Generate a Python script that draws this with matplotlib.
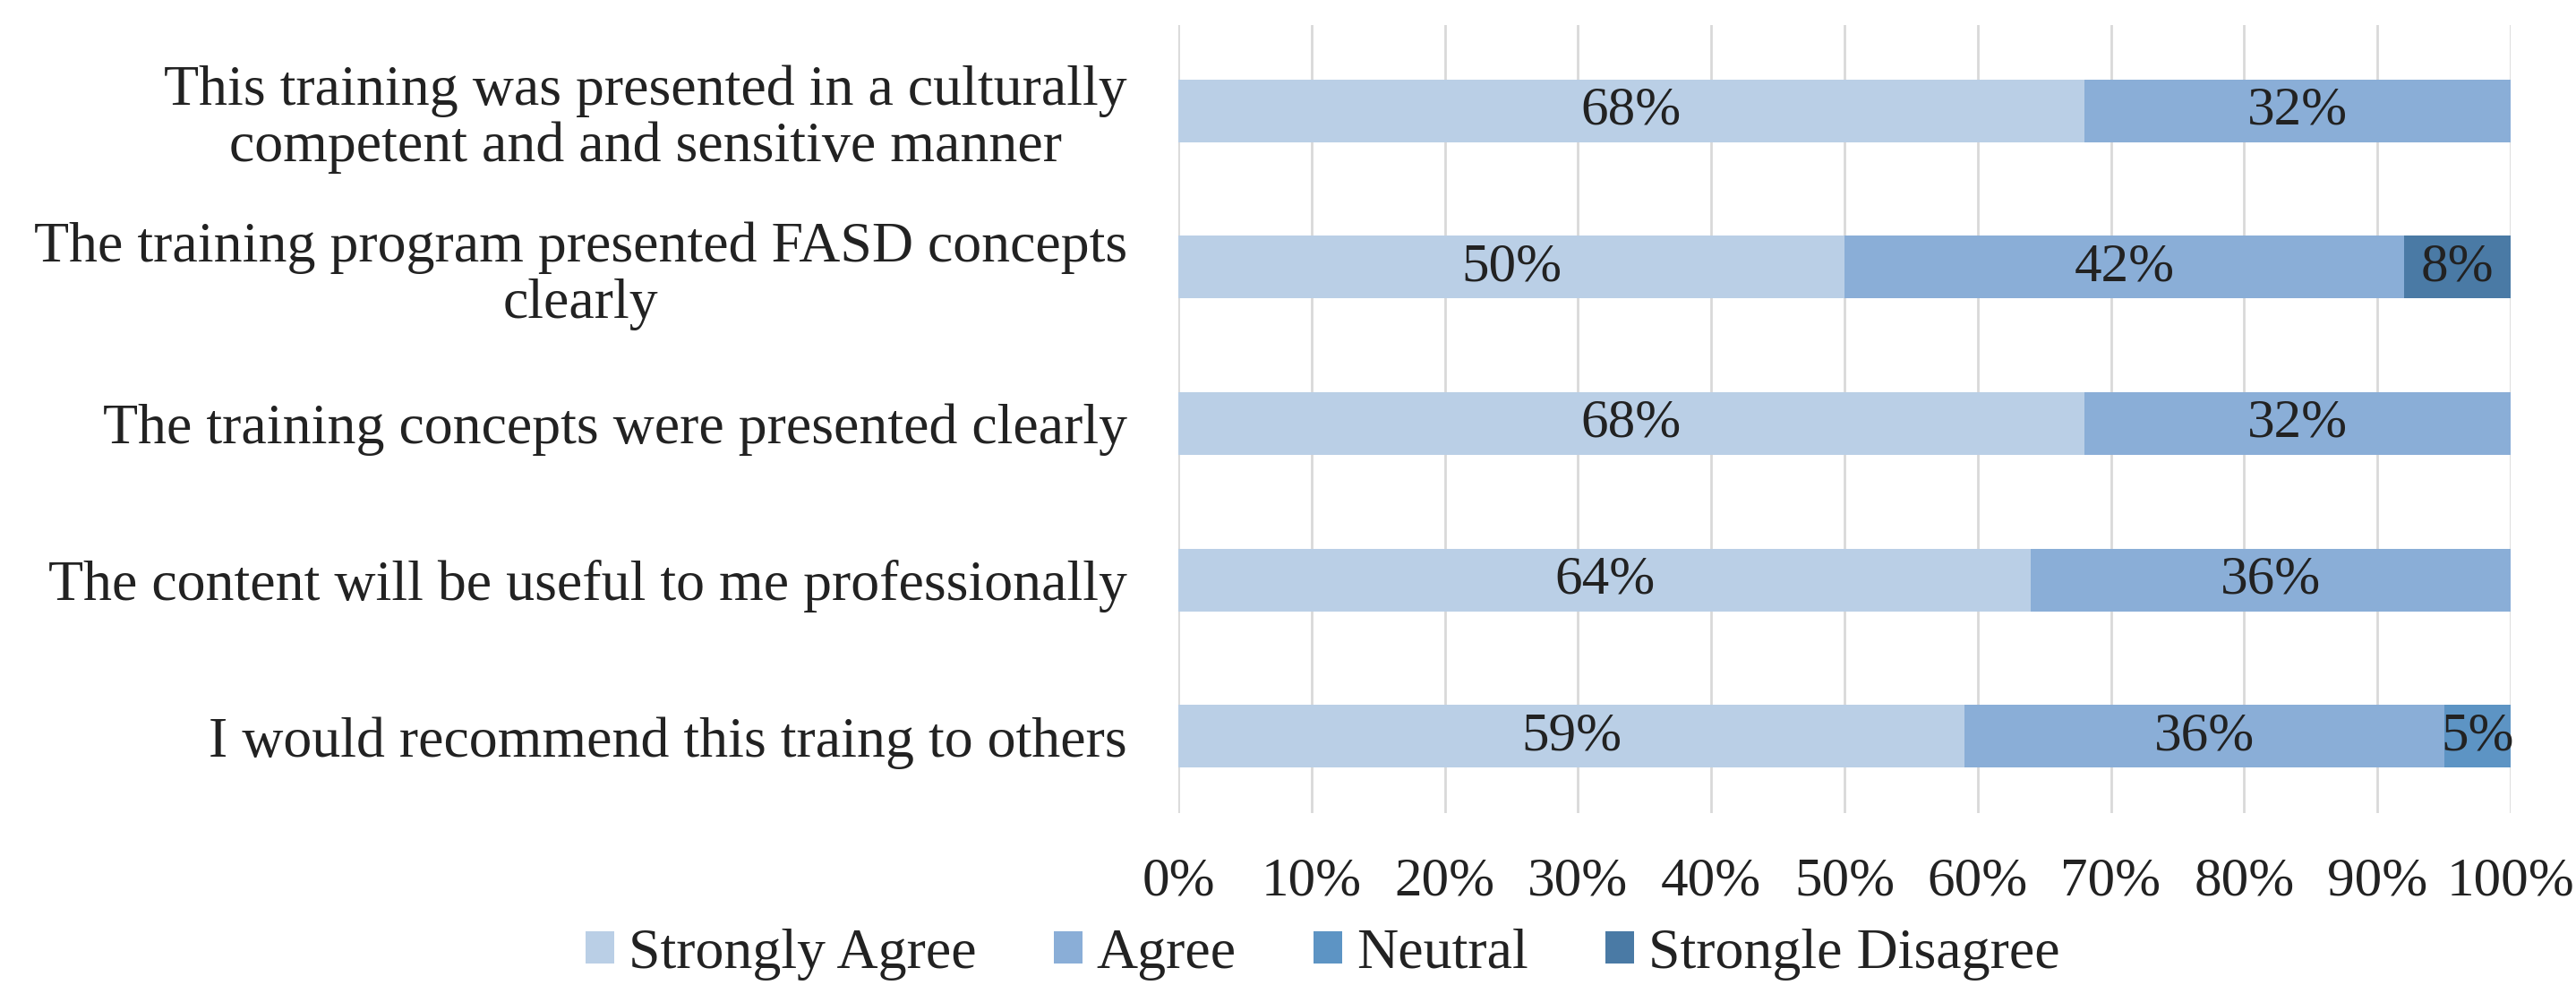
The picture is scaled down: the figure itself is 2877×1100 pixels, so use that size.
import matplotlib
matplotlib.use("Agg")
import matplotlib.pyplot as plt
import numpy as np

plt.rcParams['font.family'] = ['Liberation Serif', 'DejaVu Serif']

# survey items, top to bottom
questions = [
    "This training was presented in a culturally\ncompetent and and sensitive manner",
    "The training program presented FASD concepts\nclearly",
    "The training concepts were presented clearly",
    "The content will be useful to me professionally",
    "I would recommend this traing to others",
]
series_names = ["Strongly Agree", "Agree", "Neutral", "Strongle Disagree"]
strongly_agree = [68, 50, 68, 64, 59]
agree = [32, 42, 32, 36, 36]
neutral = [0, 0, 0, 0, 5]
strongle_disagree = [0, 8, 0, 0, 0]
x_ticks = [0, 10, 20, 30, 40, 50, 60, 70, 80, 90, 100]

colors = ['#BACFE6', '#8AAED7', '#5D94C4', '#4A7AA5']
txt = '#222222'

fig = plt.figure(figsize=(28.77, 11), dpi=100)
ax = fig.add_axes([0.4574, 0.1745, 0.5172, 0.8005])

y = np.arange(len(questions))
left = np.zeros(len(questions))
for name, vals, c in zip(series_names,
                         [strongly_agree, agree, neutral, strongle_disagree],
                         colors):
    vals = np.array(vals, dtype=float)
    bars = ax.barh(y, vals, left=left, height=0.4, color=c, label=name, zorder=3)
    # value labels in the middle of each segment
    for b, v in zip(bars, vals):
        if v > 0:
            ax.text(b.get_x() + b.get_width() / 2, b.get_y() + b.get_height() / 2,
                    f"{v:.0f}%", ha='center', va='center', fontsize=44, color=txt, zorder=4)
    left += vals

ax.set_xlim(0, 100)
ax.set_ylim(4.49, -0.55)
ax.set_xticks(x_ticks)
ax.set_xticklabels([f"{t}%" for t in x_ticks], fontsize=44, color=txt)
ax.set_yticks(y)
ax.set_yticklabels(questions, fontsize=46, color=txt, multialignment='center',
                   linespacing=1.12)
ax.tick_params(axis='both', length=0)
ax.tick_params(axis='x', pad=35)
ax.tick_params(axis='y', pad=41)
ax.grid(axis='x', color='#D9D9D9', linewidth=2, zorder=0)
for s in ax.spines.values():
    s.set_visible(False)

fig.legend(loc='center', bbox_to_anchor=(0.5134, 0.031), ncol=4, frameon=False,
           fontsize=46, handlelength=0.5, handleheight=0.5, handletextpad=0.25,
           columnspacing=1.35, labelcolor=txt)

plt.savefig("out.png", dpi=100)
